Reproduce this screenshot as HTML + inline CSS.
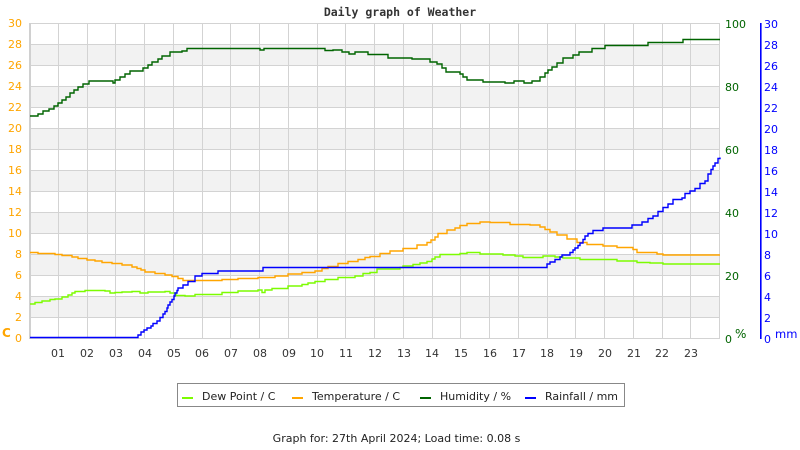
<!DOCTYPE html>
<html><head><meta charset="utf-8"><style>
html,body{margin:0;padding:0;background:#fff;}
svg{display:block;}
text{font-family:"DejaVu Sans","Liberation Sans",sans-serif;font-size:11px;}
</style></head><body>
<svg width="800" height="450" viewBox="0 0 800 450" xmlns="http://www.w3.org/2000/svg">
<rect width="800" height="450" fill="#fff"/>
<text x="400" y="16" text-anchor="middle" style="font-family:'DejaVu Sans Mono','Liberation Mono',monospace;font-size:11.5px;font-weight:bold;" fill="#333">Daily graph of Weather</text>
<!-- bands -->
<g fill="#f2f2f2">
<rect x="30" y="44" width="690" height="21"/>
<rect x="30" y="86" width="690" height="21"/>
<rect x="30" y="128" width="690" height="21"/>
<rect x="30" y="170" width="690" height="21"/>
<rect x="30" y="212" width="690" height="21"/>
<rect x="30" y="254" width="690" height="21"/>
<rect x="30" y="296" width="690" height="21"/>
</g>
<g stroke="#d3d3d3" stroke-width="1" shape-rendering="crispEdges">
<line x1="30" y1="23.5" x2="720" y2="23.5"/>
<line x1="30" y1="44.5" x2="720" y2="44.5"/>
<line x1="30" y1="65.5" x2="720" y2="65.5"/>
<line x1="30" y1="86.5" x2="720" y2="86.5"/>
<line x1="30" y1="107.5" x2="720" y2="107.5"/>
<line x1="30" y1="128.5" x2="720" y2="128.5"/>
<line x1="30" y1="149.5" x2="720" y2="149.5"/>
<line x1="30" y1="170.5" x2="720" y2="170.5"/>
<line x1="30" y1="191.5" x2="720" y2="191.5"/>
<line x1="30" y1="212.5" x2="720" y2="212.5"/>
<line x1="30" y1="233.5" x2="720" y2="233.5"/>
<line x1="30" y1="254.5" x2="720" y2="254.5"/>
<line x1="30" y1="275.5" x2="720" y2="275.5"/>
<line x1="30" y1="296.5" x2="720" y2="296.5"/>
<line x1="30" y1="317.5" x2="720" y2="317.5"/>
<line x1="30" y1="338.5" x2="720" y2="338.5"/>
<line x1="58.5" y1="23" x2="58.5" y2="338"/>
<line x1="87.5" y1="23" x2="87.5" y2="338"/>
<line x1="115.5" y1="23" x2="115.5" y2="338"/>
<line x1="144.5" y1="23" x2="144.5" y2="338"/>
<line x1="173.5" y1="23" x2="173.5" y2="338"/>
<line x1="202.5" y1="23" x2="202.5" y2="338"/>
<line x1="230.5" y1="23" x2="230.5" y2="338"/>
<line x1="259.5" y1="23" x2="259.5" y2="338"/>
<line x1="288.5" y1="23" x2="288.5" y2="338"/>
<line x1="317.5" y1="23" x2="317.5" y2="338"/>
<line x1="345.5" y1="23" x2="345.5" y2="338"/>
<line x1="374.5" y1="23" x2="374.5" y2="338"/>
<line x1="403.5" y1="23" x2="403.5" y2="338"/>
<line x1="432.5" y1="23" x2="432.5" y2="338"/>
<line x1="460.5" y1="23" x2="460.5" y2="338"/>
<line x1="489.5" y1="23" x2="489.5" y2="338"/>
<line x1="518.5" y1="23" x2="518.5" y2="338"/>
<line x1="547.5" y1="23" x2="547.5" y2="338"/>
<line x1="575.5" y1="23" x2="575.5" y2="338"/>
<line x1="604.5" y1="23" x2="604.5" y2="338"/>
<line x1="633.5" y1="23" x2="633.5" y2="338"/>
<line x1="662.5" y1="23" x2="662.5" y2="338"/>
<line x1="690.5" y1="23" x2="690.5" y2="338"/>
<line x1="719.5" y1="23" x2="719.5" y2="338"/>
</g>
<rect x="29" y="23" width="2" height="316" fill="#d0d0d0" shape-rendering="crispEdges"/>
<!-- series -->
<g fill="none" stroke-width="1.4" stroke-linejoin="miter">
<path stroke="#7CFC00" d="M30,304 H35 V302.5 H42 V301 H50 V299.5 H55 V299 H62 V297 H68 V295 H72 V293 H75 V291.5 H85 V290.5 H105 V291 H110 V293 H115 V292.5 H122 V292 H132 V291.5 H140 V293 H148 V292 H165 V291.5 H170 V293 H176 V295.5 H185 V296 H195 V294.5 H222 V292.5 H238 V291 H258 V290 H262 V292.5 H265 V290 H272 V288.5 H288 V286 H302 V284.5 H308 V283 H315 V281.5 H325 V279.5 H338 V277.5 H355 V276 H363 V273.5 H370 V272.5 H377 V269 H400 V267.5 H403 V266 H413 V264.5 H420 V263 H427 V261.5 H432 V259 H435 V257 H440 V254.5 H460 V253.5 H467 V252.5 H480 V254 H503 V255 H515 V256 H523 V257.5 H537 V257.5 H543 V256 H555 V257 H563 V258 H580 V259.5 H603 V259.5 H617 V261 H637 V262.5 H650 V263 H663 V264 H720"/>
<path stroke="#FFA500" d="M30,252.5 H38 V253.5 H55 V254.5 H62 V255.5 H72 V257 H78 V258.5 H87 V260 H95 V261 H102 V262.5 H112 V263.5 H122 V265 H132 V267 H137 V268.5 H141 V270 H145 V272 H155 V273.5 H165 V275 H172 V276.5 H178 V278.5 H183 V280.5 H222 V279.5 H238 V278.5 H258 V277.5 H275 V276 H288 V274 H302 V272.5 H315 V271 H322 V268.5 H328 V266.5 H338 V263.5 H348 V261.5 H358 V259.5 H365 V257.5 H370 V256.5 H380 V253.5 H390 V251 H403 V248.5 H417 V245 H427 V242.5 H431 V240 H435 V237 H438 V233.5 H447 V230 H455 V228 H460 V225.5 H467 V223.5 H480 V222 H490 V222.5 H510 V224.5 H530 V225 H540 V227 H545 V229.5 H550 V232 H557 V235 H567 V239 H577 V242.5 H587 V244.5 H603 V246 H617 V247.5 H633 V249.5 H637 V252.5 H657 V254 H663 V255 H720"/>
<path stroke="#006400" d="M30,116 H38 V114 H43 V111 H49 V109 H54 V106 H58 V103 H62 V100 H66 V97 H70 V93 H74 V90 H78 V87 H83 V84 H89 V81 H113 V83 H115 V80 H120 V77 H125 V74 H130 V71 H143 V68 H148 V65 H152 V62 H158 V59 H162 V56 H170 V52 H182 V51 H187 V48.5 H260 V50 H264 V48.5 H325 V50.5 H333 V50 H342 V52 H349 V54 H355 V52 H368 V54.5 H388 V58 H412 V59 H430 V62 H437 V64 H442 V68 H446 V72 H460 V74 H463 V77 H467 V80 H483 V82 H505 V83 H514 V81 H524 V83 H532 V81 H540 V77 H545 V73 H548 V70 H552 V67 H557 V63 H563 V58 H573 V55 H579 V52 H592 V48.5 H605 V45.5 H648 V42.5 H683 V39.5 H720"/>
<path stroke="#0000FF" d="M30,337.5 H138 V335 H141 V332 H144 V330 H147 V328 H151 V326 H153 V323.5 H157 V321 H160 V317.5 H163 V314 H165 V311.5 H167 V308 H168 V305 H170 V302 H172 V299.5 H174 V296 H175 V293 H177 V290.5 H178 V288 H183 V285 H188 V281.5 H195 V276 H202 V273.5 H218 V271 H263 V267.5 H547 V264 H550 V262 H555 V259.5 H560 V257 H562 V255 H570 V252.5 H573 V250 H575 V248 H578 V245.5 H580 V243 H583 V239.5 H585 V236 H588 V233.5 H593 V230.5 H603 V228 H632 V225 H642 V222 H648 V218.5 H653 V216 H658 V211.5 H663 V207.5 H668 V204 H673 V199.5 H682 V198 H685 V193.5 H690 V191 H695 V188.5 H700 V183.5 H705 V181 H708 V174 H711 V169.5 H713 V166 H715 V163 H718 V158.5 H720 V157.5"/>
</g>
<!-- left axis labels -->
<g fill="#FFA500" text-anchor="end">
<text x="22" y="27">30</text>
<text x="22" y="48">28</text>
<text x="22" y="69">26</text>
<text x="22" y="90">24</text>
<text x="22" y="111">22</text>
<text x="22" y="132">20</text>
<text x="22" y="153">18</text>
<text x="22" y="174">16</text>
<text x="22" y="195">14</text>
<text x="22" y="216">12</text>
<text x="22" y="237">10</text>
<text x="22" y="258">8</text>
<text x="22" y="279">6</text>
<text x="22" y="300">4</text>
<text x="22" y="321">2</text>
<text x="22" y="342">0</text>
</g>
<text x="2" y="337" fill="#FFA500" style="font-size:12px;font-weight:bold;">C</text>
<!-- humidity labels -->
<g fill="#006400">
<text x="725" y="28">100</text>
<text x="725" y="91">80</text>
<text x="725" y="154">60</text>
<text x="725" y="217">40</text>
<text x="725" y="280">20</text>
<text x="725" y="343">0</text>
<text x="735" y="338" style="font-size:12px;">%</text>
</g>
<!-- rain axis -->
<rect x="760" y="23" width="1.6" height="316" fill="#0000FF"/>
<g fill="#0000FF">
<text x="764" y="28">30</text>
<text x="764" y="49">28</text>
<text x="764" y="70">26</text>
<text x="764" y="91">24</text>
<text x="764" y="112">22</text>
<text x="764" y="133">20</text>
<text x="764" y="154">18</text>
<text x="764" y="175">16</text>
<text x="764" y="196">14</text>
<text x="764" y="217">12</text>
<text x="764" y="238">10</text>
<text x="764" y="259">8</text>
<text x="764" y="280">6</text>
<text x="764" y="301">4</text>
<text x="764" y="322">2</text>
<text x="764" y="343">0</text>
<text x="775" y="338" style="font-size:11.5px;">mm</text>
</g>
<!-- x labels -->
<g fill="#333" text-anchor="middle">
<text x="58" y="357">01</text>
<text x="87" y="357">02</text>
<text x="116" y="357">03</text>
<text x="145" y="357">04</text>
<text x="174" y="357">05</text>
<text x="202" y="357">06</text>
<text x="231" y="357">07</text>
<text x="260" y="357">08</text>
<text x="289" y="357">09</text>
<text x="317" y="357">10</text>
<text x="346" y="357">11</text>
<text x="375" y="357">12</text>
<text x="404" y="357">13</text>
<text x="432" y="357">14</text>
<text x="461" y="357">15</text>
<text x="490" y="357">16</text>
<text x="519" y="357">17</text>
<text x="547" y="357">18</text>
<text x="576" y="357">19</text>
<text x="605" y="357">20</text>
<text x="634" y="357">21</text>
<text x="662" y="357">22</text>
<text x="691" y="357">23</text>
</g>
<!-- legend -->
<rect x="177.5" y="383.5" width="447" height="23" fill="#fff" stroke="#888" stroke-width="1" shape-rendering="crispEdges"/>
<g stroke-width="2">
<line x1="182" y1="398" x2="193" y2="398" stroke="#7CFC00"/>
<line x1="292" y1="398" x2="303" y2="398" stroke="#FFA500"/>
<line x1="420" y1="398" x2="431" y2="398" stroke="#006400"/>
<line x1="525" y1="398" x2="536" y2="398" stroke="#0000FF"/>
</g>
<g fill="#222">
<text x="202" y="400">Dew Point / C</text>
<text x="312" y="400">Temperature / C</text>
<text x="440" y="400">Humidity / %</text>
<text x="545" y="400">Rainfall / mm</text>
</g>
<text x="396.5" y="442" text-anchor="middle" fill="#222">Graph for: 27th April 2024; Load time: 0.08 s</text>
</svg>
</body></html>
